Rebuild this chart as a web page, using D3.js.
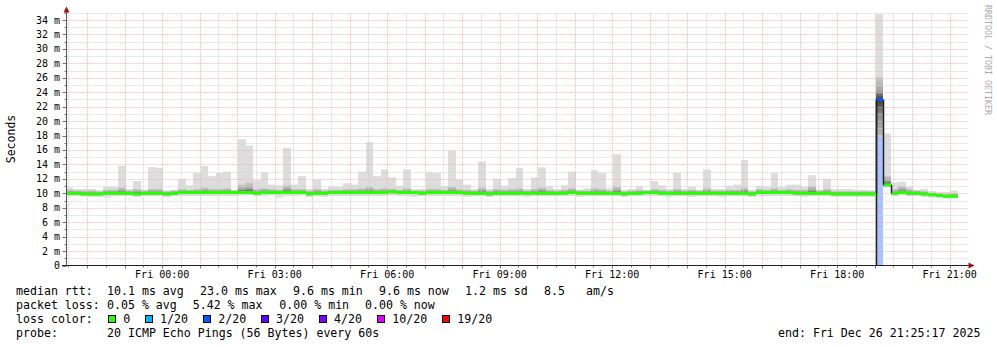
<!DOCTYPE html>
<html>
<head>
<meta charset="utf-8">
<script src="https://cdn.jsdelivr.net/npm/d3@7/dist/d3.min.js"></script>
<style>
	body { margin: 0; background: #fff; }
	svg text { font-family: "DejaVu Sans Mono", monospace; }
</style>
</head>
<body>
<div id="chart"></div>
<script>
// median rtt per 12 min step (ms)
var medianMs = [
	10.0, 10.0, 9.9, 9.9, 9.9, 10.0, 10.0, 10.0, 10.0, 9.9,
	10.0, 10.0, 10.0, 9.9, 10.0, 10.1, 10.1, 10.1, 10.1, 10.1,
	10.1, 10.1, 10.1, 10.1, 10.1, 10.0, 10.1, 10.1, 10.1, 10.1,
	10.1, 10.1, 9.9, 10.0, 10.0, 10.1, 10.1, 10.1, 10.1, 10.1,
	10.1, 10.1, 10.1, 10.2, 10.1, 10.1, 10.1, 10.0, 10.1, 10.1,
	10.1, 10.1, 10.1, 10.0, 10.0, 10.0, 9.9, 10.0, 10.0, 10.0,
	10.0, 10.0, 10.0, 10.0, 10.0, 10.0, 10.0, 10.1, 10.0, 10.0,
	10.0, 10.0, 10.0, 10.0, 9.9, 10.0, 10.0, 10.1, 10.1, 10.0,
	10.0, 10.0, 10.0, 10.0, 10.0, 10.0, 10.0, 10.0, 10.0, 10.0,
	10.0, 9.9, 10.1, 10.1, 10.1, 10.1, 10.1, 10.0, 10.0, 10.0,
	10.0, 10.0, 9.9, 9.9, 9.9, 9.9, 9.9, 9.9, 23.0, 11.2,
	10.0, 10.1, 10.0, 10.0, 9.9, 9.8, 9.7, 9.6, 9.6
];
// slowest ping of the step (top of the smoke)
var maxMs = [
	10.8, 10.6, 10.6, 10.6, 10.4, 10.9, 10.9, 13.8, 10.6, 11.7,
	10.5, 13.6, 13.5, 10.4, 10.5, 12.0, 11.1, 12.8, 13.8, 12.4,
	12.8, 13.0, 10.5, 17.5, 16.6, 11.8, 12.9, 11.2, 11.1, 16.3,
	11.2, 12.4, 10.6, 11.9, 10.6, 10.9, 10.9, 11.4, 11.2, 13.0,
	17.1, 12.4, 13.3, 12.2, 11.0, 13.3, 10.6, 10.6, 12.9, 12.8,
	11.0, 15.9, 11.9, 11.2, 10.6, 14.4, 10.6, 12.0, 11.0, 12.1,
	13.5, 10.6, 12.2, 13.6, 11.0, 10.6, 11.1, 13.0, 10.5, 10.7,
	13.2, 12.8, 10.7, 15.4, 10.5, 10.6, 11.0, 10.5, 11.7, 11.1,
	10.6, 12.8, 10.6, 10.9, 10.5, 13.3, 10.6, 10.6, 11.0, 11.2,
	14.6, 10.5, 11.0, 10.9, 12.8, 10.9, 11.2, 11.2, 10.9, 12.5,
	10.5, 12.0, 10.6, 10.6, 10.6, 10.5, 10.5, 10.4, 34.8, 18.3,
	11.5, 11.6, 10.9, 10.5, 10.6, 10.3, 10.2, 10.2, 10.4
];
// fastest ping of the step (bottom of the smoke)
var minMs = [
	9.6, 9.6, 9.6, 9.5, 9.5, 9.4, 9.6, 9.6, 9.6, 9.5,
	9.6, 9.6, 9.6, 9.5, 9.6, 9.6, 9.6, 9.6, 9.6, 9.6,
	9.6, 9.6, 9.6, 9.7, 9.7, 9.6, 9.6, 9.7, 9.4, 9.6,
	9.6, 9.7, 9.5, 9.6, 9.5, 9.6, 9.6, 9.6, 9.6, 9.6,
	9.6, 9.6, 9.6, 9.7, 9.6, 9.6, 9.5, 9.6, 9.6, 9.6,
	9.6, 9.6, 9.6, 9.5, 9.6, 9.6, 9.5, 9.6, 9.6, 9.6,
	9.6, 9.5, 9.6, 9.6, 9.6, 9.6, 9.6, 9.6, 9.5, 9.6,
	9.6, 9.6, 9.6, 9.6, 9.5, 9.6, 9.6, 9.6, 9.6, 9.6,
	9.5, 9.6, 9.6, 9.5, 9.6, 9.6, 9.6, 9.5, 9.6, 9.6,
	9.6, 9.5, 9.6, 9.6, 9.6, 9.6, 9.6, 9.6, 9.5, 9.6,
	9.6, 9.6, 9.5, 9.5, 9.5, 9.5, 9.5, 9.5, 18.0, 10.8,
	9.6, 9.7, 9.6, 9.6, 9.5, 9.4, 9.4, 9.3, 9.4
];
// dense part of the smoke, below and above the median
var loMs = [
	9.8, 9.8, 9.7, 9.7, 9.7, 9.8, 9.8, 9.8, 9.8, 9.7,
	9.8, 9.8, 9.8, 9.7, 9.8, 9.9, 9.9, 9.9, 9.9, 9.9,
	9.9, 9.9, 9.9, 9.9, 9.9, 9.8, 9.9, 9.9, 9.9, 9.9,
	9.9, 9.9, 9.7, 9.8, 9.8, 9.9, 9.9, 9.9, 9.9, 9.9,
	9.9, 9.9, 9.9, 10.0, 9.9, 9.9, 9.9, 9.8, 9.9, 9.9,
	9.9, 9.9, 9.9, 9.8, 9.8, 9.8, 9.7, 9.8, 9.8, 9.8,
	9.8, 9.8, 9.8, 9.8, 9.8, 9.8, 9.8, 9.9, 9.8, 9.8,
	9.8, 9.8, 9.8, 9.8, 9.7, 9.8, 9.8, 9.9, 9.9, 9.8,
	9.8, 9.8, 9.8, 9.8, 9.8, 9.8, 9.8, 9.8, 9.8, 9.8,
	9.8, 9.7, 9.9, 9.9, 9.9, 9.9, 9.9, 9.8, 9.8, 9.8,
	9.8, 9.8, 9.7, 9.7, 9.7, 9.7, 9.7, 9.7, 18.0, 10.9,
	9.8, 9.9, 9.8, 9.8, 9.7, 9.6, 9.5, 9.4, 9.4
];
var hiMs = [
	10.5, 10.4, 10.4, 10.4, 10.3, 10.5, 10.5, 10.8, 10.4, 10.6,
	10.4, 10.6, 10.6, 10.3, 10.4, 10.6, 10.5, 10.6, 10.8, 10.6,
	10.6, 10.7, 10.4, 11.2, 11.5, 10.6, 10.7, 10.6, 10.5, 11.1,
	10.6, 10.6, 10.4, 10.6, 10.4, 10.5, 10.5, 10.6, 10.6, 10.7,
	10.9, 10.6, 10.7, 10.6, 10.5, 10.7, 10.4, 10.4, 10.6, 10.6,
	10.5, 10.9, 10.6, 10.5, 10.4, 10.8, 10.4, 10.6, 10.5, 10.6,
	10.7, 10.4, 10.6, 10.8, 10.5, 10.4, 10.5, 10.7, 10.4, 10.4,
	10.7, 10.6, 10.4, 10.9, 10.3, 10.4, 10.5, 10.4, 10.6, 10.5,
	10.4, 10.6, 10.4, 10.5, 10.4, 10.7, 10.4, 10.4, 10.5, 10.5,
	10.8, 10.3, 10.6, 10.5, 10.7, 10.5, 10.6, 10.5, 10.5, 11.0,
	10.4, 10.6, 10.3, 10.3, 10.3, 10.3, 10.3, 10.3, 26.1, 12.4,
	10.6, 11.0, 10.6, 10.4, 10.3, 10.1, 10.0, 9.9, 10.0
];
// lost pings out of 20 per step
var lostPings = [
	0, 0, 0, 0, 0, 0, 0, 0, 0, 0, 0, 0, 0, 0, 0, 0, 0, 0, 0, 0,
	0, 0, 0, 0, 0, 0, 0, 0, 0, 0, 0, 0, 0, 0, 0, 0, 0, 0, 0, 0,
	0, 0, 0, 0, 0, 0, 0, 0, 0, 0, 0, 0, 0, 0, 0, 0, 0, 0, 0, 0,
	0, 0, 0, 0, 0, 0, 0, 0, 0, 0, 0, 0, 0, 0, 0, 0, 0, 0, 0, 0,
	0, 0, 0, 0, 0, 0, 0, 0, 0, 0, 0, 0, 0, 0, 0, 0, 0, 0, 0, 0,
	0, 0, 0, 0, 0, 0, 0, 0, 1.08, 0, 0, 0, 0, 0, 0, 0, 0, 0, 0
];

var lossLimits = [0, 1, 2, 3, 4, 10, 19];
var lossLabels = ["0", "1/20", "2/20", "3/20", "4/20", "10/20", "19/20"];
var lossColors = ["#26ff00", "#00b8ff", "#0059ff", "#5e00ff", "#7e00ff", "#dd00ff", "#ff0000"];

var rttStats = ["10.1 ms avg", "23.0 ms max", "9.6 ms min", "9.6 ms now", "1.2 ms sd", "8.5", "am/s"];
var lossStats = ["0.05 % avg", "5.42 % max", "0.00 % min", "0.00 % now"];
var probeText = "20 ICMP Echo Pings (56 Bytes) every 60s";
var endText = "end: Fri Dec 26 21:25:17 2025";

//
// Set up
//
var _width = 997, _height = 347;
var plot = { left: 66.5, right: 968, top: 12.8, bottom: 265.5 };

var endTime = new Date(2025, 11, 26, 21, 25, 17),
	startTime = new Date(endTime.getTime() - 24 * 3600 * 1000),
	firstStep = new Date(2025, 11, 25, 21, 26, 0),
	stepMs = 12 * 60 * 1000;

var x = d3.scaleTime().domain([startTime, endTime]).range([65.5, 965.5]);
var y = d3.scaleLinear().domain([0, 35]).range([plot.bottom, plot.top]);

function lossColor(n) {
	for (var i = 0; i < lossLimits.length; i++) {
		if (n <= lossLimits[i]) return lossColors[i];
	}
	return lossColors[lossColors.length - 1];
}

var bins = medianMs.map(function(d, i) {
	var t0 = new Date(firstStep.getTime() + i * stepMs);
	return {
		x0: Math.round(x(t0)),
		x1: Math.round(x(new Date(t0.getTime() + stepMs))),
		med: d, max: maxMs[i], min: minMs[i], lo: loMs[i], hi: hiMs[i], lost: lostPings[i]
	};
});

var svg = d3.select("#chart").append("svg")
	.attr("width", _width)
	.attr("height", _height);

svg.append("rect").attr("width", _width).attr("height", _height).attr("fill", "#fff");

var defs = svg.append("defs");
defs.append("clipPath").attr("id", "plotclip")
	.append("rect")
	.attr("x", plot.left + 0.5).attr("y", plot.top)
	.attr("width", plot.right - plot.left).attr("height", plot.bottom - plot.top);

// smoke gradients: dark at the median, light at the edge
var gUp = defs.append("linearGradient").attr("id", "smokeUp").attr("x1", 0).attr("y1", 0).attr("x2", 0).attr("y2", 1);
gUp.append("stop").attr("offset", "0%").attr("stop-color", "#cacaca");
gUp.append("stop").attr("offset", "60%").attr("stop-color", "#a4a4a4");
gUp.append("stop").attr("offset", "100%").attr("stop-color", "#3a3a3a");
var gDown = defs.append("linearGradient").attr("id", "smokeDown").attr("x1", 0).attr("y1", 0).attr("x2", 0).attr("y2", 1);
gDown.append("stop").attr("offset", "0%").attr("stop-color", "#3a3a3a");
gDown.append("stop").attr("offset", "45%").attr("stop-color", "#909090");
gDown.append("stop").attr("offset", "100%").attr("stop-color", "#b4b4b4");

var g = svg.append("g").attr("clip-path", "url(#plotclip)");

// loss background under the smoke
g.selectAll("rect.lossbg")
	.data(bins.filter(function(d) { return d.lost > 0; }))
	.enter().append("rect")
	.attr("x", function(d) { return d.x0; })
	.attr("width", function(d) { return d.x1 - d.x0; })
	.attr("y", function(d) { return y(d.min); })
	.attr("height", function(d) { return y(0) - y(d.min); })
	.attr("fill", "#a4c3ff");

// light smoke
g.selectAll("rect.smoke")
	.data(bins)
	.enter().append("rect")
	.attr("x", function(d) { return d.x0; })
	.attr("width", function(d) { return d.x1 - d.x0; })
	.attr("y", function(d) { return y(d.max); })
	.attr("height", function(d) { return y(d.min) - y(d.max); })
	.attr("fill", "#dddddd");

g.selectAll("rect.up")
	.data(bins)
	.enter().append("rect")
	.attr("x", function(d) { return d.x0; })
	.attr("width", function(d) { return d.x1 - d.x0; })
	.attr("y", function(d) { return y(d.hi); })
	.attr("height", function(d) { return Math.max(0, y(d.med) - y(d.hi)); })
	.attr("fill", "url(#smokeUp)");

g.selectAll("rect.down")
	.data(bins)
	.enter().append("rect")
	.attr("x", function(d) { return d.x0; })
	.attr("width", function(d) { return d.x1 - d.x0; })
	.attr("y", function(d) { return y(d.med); })
	.attr("height", function(d) { return Math.max(0, y(d.lo) - y(d.med)); })
	.attr("fill", "url(#smokeDown)");

//
// Grid
//
var grid = svg.append("g");
var halfHours = x.ticks(d3.timeMinute.every(30)),
	hours = x.ticks(d3.timeHour.every(1));

grid.selectAll("line.vminor")
	.data(halfHours.filter(function(t) { return t.getMinutes() === 30; }))
	.enter().append("line")
	.attr("x1", function(t) { return Math.round(x(t)) + 0.5; })
	.attr("x2", function(t) { return Math.round(x(t)) + 0.5; })
	.attr("y1", plot.top).attr("y2", plot.bottom)
	.attr("stroke", "#d2d2d2").attr("stroke-dasharray", "1,1");

grid.selectAll("line.hminor")
	.data(d3.range(1, 36, 2))
	.enter().append("line")
	.attr("x1", plot.left).attr("x2", plot.right)
	.attr("y1", function(v) { return Math.round(y(v)) + 0.5; })
	.attr("y2", function(v) { return Math.round(y(v)) + 0.5; })
	.attr("stroke", "#d2d2d2").attr("stroke-dasharray", "1,1");

grid.selectAll("line.vmajor")
	.data(hours)
	.enter().append("line")
	.attr("x1", function(t) { return Math.round(x(t)) + 0.5; })
	.attr("x2", function(t) { return Math.round(x(t)) + 0.5; })
	.attr("y1", plot.top).attr("y2", plot.bottom)
	.attr("stroke", "#eeb4b4").attr("stroke-dasharray", "1,1");

grid.selectAll("line.hmajor")
	.data(d3.range(2, 36, 2))
	.enter().append("line")
	.attr("x1", plot.left).attr("x2", plot.right)
	.attr("y1", function(v) { return Math.round(y(v)) + 0.5; })
	.attr("y2", function(v) { return Math.round(y(v)) + 0.5; })
	.attr("stroke", "#eeb4b4").attr("stroke-dasharray", "1,1");

//
// Median line
//
var med = svg.append("g").attr("clip-path", "url(#plotclip)");

var steps = [];
bins.forEach(function(d, i) {
	if (i > 0 && Math.abs(bins[i - 1].med - d.med) > 0.5) steps.push({ x: d.x0, a: bins[i - 1].med, b: d.med });
	if (d.lost > 0) steps.push({ x: d.x0, a: 0, b: d.med });
});
med.selectAll("line.step")
	.data(steps)
	.enter().append("line")
	.attr("x1", function(d) { return d.x + 0.5; })
	.attr("x2", function(d) { return d.x + 0.5; })
	.attr("y1", function(d) { return y(d.a); })
	.attr("y2", function(d) { return y(d.b); })
	.attr("stroke", "#222").attr("stroke-width", 1.5);

med.selectAll("line.median")
	.data(bins)
	.enter().append("line")
	.attr("x1", function(d, i) { return i > 0 && Math.abs(bins[i - 1].med - d.med) > 0.5 ? d.x0 + 1 : d.x0; })
	.attr("x2", function(d) { return d.x1; })
	.attr("y1", function(d) { return y(d.med); })
	.attr("y2", function(d) { return y(d.med); })
	.attr("stroke", function(d) { return lossColor(d.lost); })
	.attr("stroke-width", 3);

//
// Axes
//
var axes = svg.append("g");

axes.selectAll("line.ytick")
	.data(d3.range(0, 36, 1))
	.enter().append("line")
	.attr("x1", function(v) { return v % 2 === 0 ? 62.5 : 64.5; })
	.attr("x2", plot.left)
	.attr("y1", function(v) { return Math.round(y(v)) + 0.5; })
	.attr("y2", function(v) { return Math.round(y(v)) + 0.5; })
	.attr("stroke", "#777");

axes.selectAll("line.xtick")
	.data(halfHours)
	.enter().append("line")
	.attr("x1", function(t) { return Math.round(x(t)) + 0.5; })
	.attr("x2", function(t) { return Math.round(x(t)) + 0.5; })
	.attr("y1", plot.bottom)
	.attr("y2", function(t) { return t.getMinutes() === 0 ? plot.bottom + 3 : plot.bottom + 2; })
	.attr("stroke", "#777");

axes.append("line")
	.attr("x1", plot.left).attr("x2", plot.left)
	.attr("y1", plot.bottom).attr("y2", 9)
	.attr("stroke", "#555");
axes.append("line")
	.attr("x1", 62).attr("x2", 969)
	.attr("y1", plot.bottom).attr("y2", plot.bottom)
	.attr("stroke", "#222");

axes.append("path")
	.attr("d", "M63.5,12.5 L69.5,12.5 L66.5,6.5 Z")
	.attr("fill", "#a01010");
axes.append("path")
	.attr("d", "M968.5,262.5 L968.5,268.5 L974.5,265.5 Z")
	.attr("fill", "#a01010");

axes.selectAll("text.ylabel")
	.data(d3.range(0, 35, 2))
	.enter().append("text")
	.attr("x", 60)
	.attr("y", function(v) { return y(v) + 3.5; })
	.attr("text-anchor", "end")
	.attr("font-size", "10px")
	.attr("fill", "#000")
	.text(function(v) { return v === 0 ? "0" : v + " m"; });

var fmt = d3.timeFormat("%a %H:%M");
axes.selectAll("text.xlabel")
	.data(x.ticks(d3.timeHour.every(3)))
	.enter().append("text")
	.attr("x", function(t) { return x(t); })
	.attr("y", 277.5)
	.attr("text-anchor", "middle")
	.attr("font-size", "10px")
	.attr("fill", "#000")
	.text(fmt);

svg.append("text")
	.attr("transform", "translate(15,139) rotate(-90)")
	.attr("text-anchor", "middle")
	.attr("font-size", "11.5px")
	.attr("fill", "#000")
	.text("Seconds");

svg.append("text")
	.attr("transform", "translate(985,5) rotate(90)")
	.attr("font-size", "8.3px")
	.attr("fill", "#aaaaaa")
	.text("RRDTOOL / TOBI OETIKER");

//
// Legend
//
var legend = svg.append("g")
	.attr("font-size", "11.6px")
	.attr("fill", "#000");

function addText(tx, ty, s) {
	legend.append("text").attr("x", tx).attr("y", ty).text(s);
}

addText(16, 295, "median rtt:");
var rttX = [107, 200, 293, 379, 465, 544, 586];
rttStats.forEach(function(s, i) { addText(rttX[i], 295, s); });

addText(16, 309, "packet loss:");
var lossX = [107, 192.7, 279.3, 365];
lossStats.forEach(function(s, i) { addText(lossX[i], 309, s); });

addText(16, 323, "loss color:");
var boxX = [108.5, 145.5, 203.5, 261.5, 319.5, 377.5, 442.5],
	labelX = [123.3, 160, 218.3, 276, 334, 392.3, 457.3];
lossLabels.forEach(function(s, i) {
	legend.append("rect")
		.attr("x", boxX[i]).attr("y", 315.5)
		.attr("width", 7).attr("height", 7)
		.attr("fill", lossColors[i])
		.attr("stroke", "#000");
	addText(labelX[i], 323, s);
});

addText(16, 337, "probe:");
addText(107, 337, probeText);
addText(778, 337, endText);
</script>
</body>
</html>
